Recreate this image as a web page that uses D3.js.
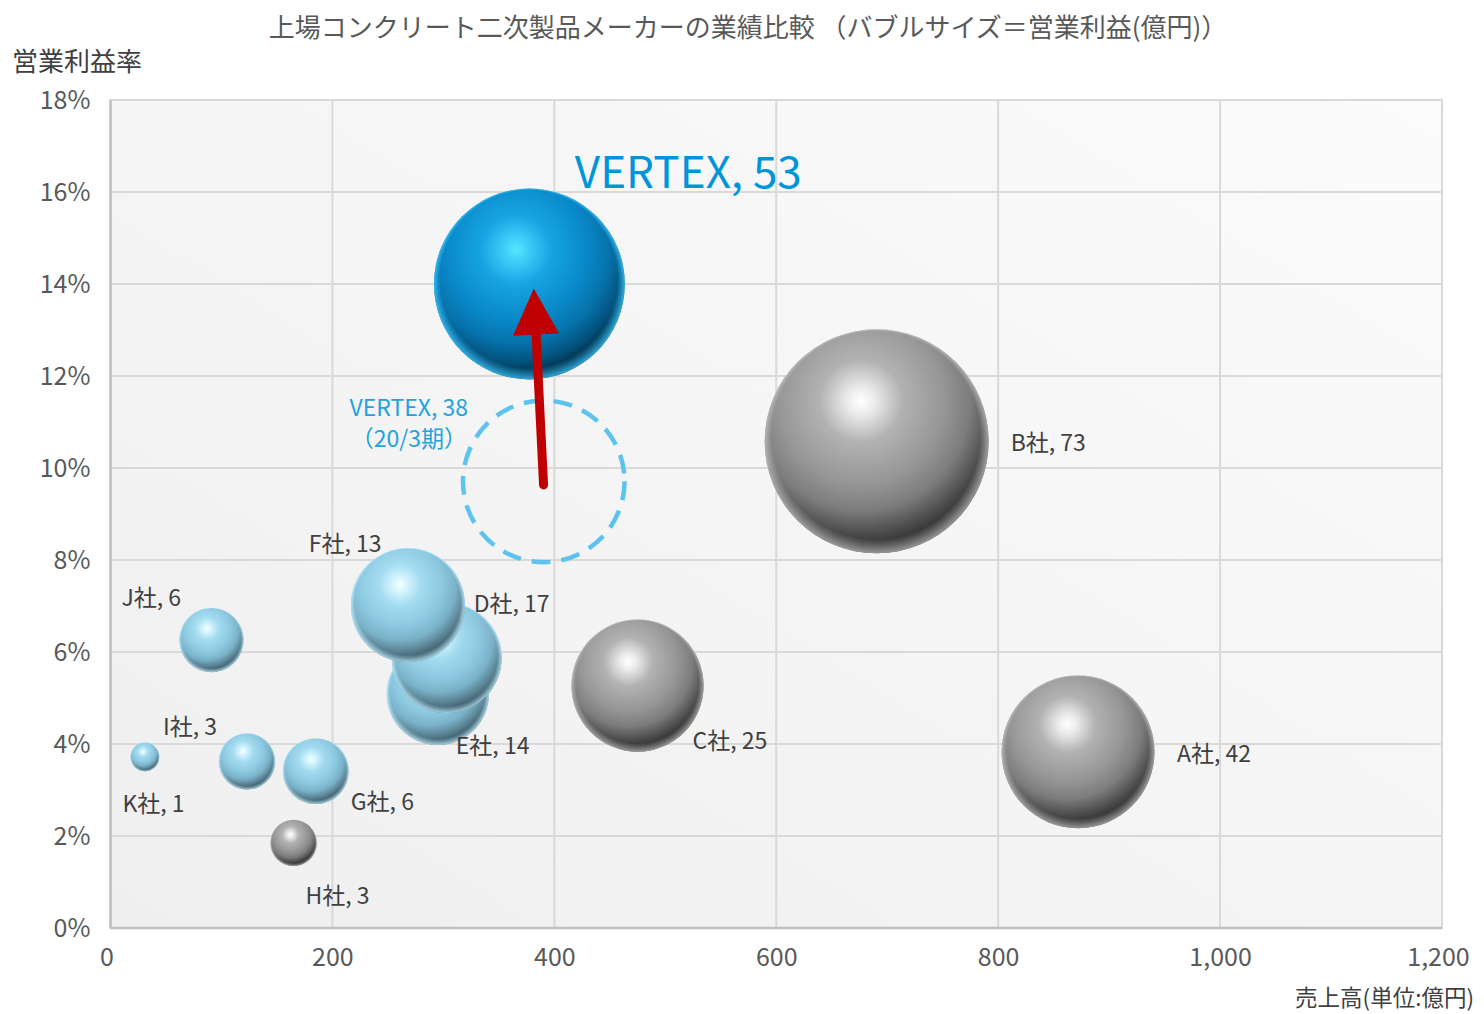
<!DOCTYPE html>
<html><head><meta charset="utf-8">
<script src="https://cdn.jsdelivr.net/npm/d3@7"></script>
<style>
html,body{margin:0;padding:0;background:#fff;}
text{font-family:"Noto Sans CJK JP","Noto Sans",sans-serif;}
</style></head>
<body><svg id="chart" width="1484" height="1014"></svg>
<script>
// ---------- data ----------
const companies   = ["VERTEX","B社","A社","C社","E社","D社","F社","J社","I社","K社","G社","H社"];
const sales       = [377.5, 690.5, 872, 475, 295, 303, 268, 91, 123, 31, 185, 165];      // 売上高(億円)
const margins     = [14.0, 10.58, 3.83, 5.27, 5.09, 5.87, 7.02, 6.26, 3.62, 3.72, 3.41, 1.85]; // 営業利益率(%)
const profits     = [53, 73, 42, 25, 14, 17, 13, 6, 3, 1, 6, 3];                           // 営業利益(億円) label
const bubbleSizes = [53, 73, 34, 25.4, 15.2, 17.6, 18.9, 6, 4.6, 1.2, 6.3, 3.1];          // bubble size as drawn
const groups      = ["vertex","gray","gray","gray","light","light","light","light","light","light","light","gray"];
const prevPoint   = {name:"VERTEX", sales:390.5, margin:9.71, profit:38, period:"（20/3期）"};
const arrowFrom   = [390.3, 9.63];
const arrowTo     = [381.5, 13.9];
const xTicks      = [0,200,400,600,800,1000,1200];
const yTicks      = [0,2,4,6,8,10,12,14,16,18];
const title       = "上場コンクリート二次製品メーカーの業績比較 （バブルサイズ＝営業利益(億円)）";
const yTitle      = "営業利益率";
const xTitle      = "売上高(単位:億円)";

// ---------- layout ----------
const plot = {l:110.5, r:1442, t:100, b:928};
const labelOffsets = [[45.5,-115.5],[134,0],[99,0],[55,53],[18,50],[27,-56],[-99,-63],[-90,-44],[-84,-36.5],[-22.5,45],[35,29],[12,51]];

const svg = d3.select("#chart");
const x = d3.scaleLinear().domain([0,1200]).range([plot.l, plot.r]);
const y = d3.scaleLinear().domain([0,18]).range([plot.b, plot.t]);
const rs = d3.scaleSqrt().domain([0,73]).range([0,112]);

const defs = svg.append("defs");
const bg = defs.append("linearGradient").attr("id","bg").attr("x1","0").attr("y1","1").attr("x2","1").attr("y2","0");
bg.append("stop").attr("offset","0").attr("stop-color","#efefef");
bg.append("stop").attr("offset","1").attr("stop-color","#fbfbfb");

function sphereGrad(id, stops){
  const g = defs.append("radialGradient").attr("id",id)
    .attr("cx","0.43").attr("cy","0.32").attr("r","0.74").attr("fx","0.43").attr("fy","0.32");
  stops.forEach(s=>g.append("stop").attr("offset",s[0]).attr("stop-color",s[1]));
}
sphereGrad("g-vertex",[[0,"#55e8ff"],[0.08,"#3fd0fa"],[0.25,"#16a4e2"],[0.5,"#0988c8"],[0.66,"#0672ab"],[0.8,"#03507a"],[0.9,"#012a40"],[1,"#00121c"]]);
sphereGrad("g-light",[[0,"#f4ffff"],[0.08,"#d8f6ff"],[0.25,"#a4dcf0"],[0.5,"#8bc8e0"],[0.66,"#7ab2c8"],[0.8,"#587f90"],[0.9,"#385664"],[1,"#263e48"]]);
sphereGrad("g-gray",[[0,"#ffffff"],[0.08,"#ececec"],[0.25,"#b2b2b2"],[0.5,"#969696"],[0.66,"#7c7c7c"],[0.8,"#4c4c4c"],[0.9,"#2c2c2c"],[1,"#1a1a1a"]]);
function rimGrad(id,color,op){
  const g = defs.append("radialGradient").attr("id",id)
    .attr("cx","0.5").attr("cy","0.5").attr("r","0.5").attr("fx","0.45").attr("fy","0.12");
  g.append("stop").attr("offset","0").attr("stop-color",color).attr("stop-opacity",0);
  g.append("stop").attr("offset","0.93").attr("stop-color",color).attr("stop-opacity",0);
  g.append("stop").attr("offset","1").attr("stop-color",color).attr("stop-opacity",op);
}
rimGrad("r-vertex","#3cc8ff",0.8);
rimGrad("r-light","#c4f0ff",0.8);
rimGrad("r-gray","#c8c8c8",0.7);

// plot area
svg.append("rect").attr("x",plot.l).attr("y",plot.t).attr("width",plot.r-plot.l).attr("height",plot.b-plot.t)
  .attr("fill","url(#bg)").attr("stroke","#d9d9d9").attr("stroke-width",2);
svg.append("g").selectAll("line").data(xTicks.slice(1)).join("line")
  .attr("x1",d=>x(d)).attr("x2",d=>x(d)).attr("y1",plot.t).attr("y2",plot.b)
  .attr("stroke","#d9d9d9").attr("stroke-width",2);
svg.append("g").selectAll("line").data(yTicks.slice(1)).join("line")
  .attr("x1",plot.l).attr("x2",plot.r).attr("y1",d=>y(d)).attr("y2",d=>y(d))
  .attr("stroke","#d9d9d9").attr("stroke-width",2);
svg.append("line").attr("x1",plot.l).attr("x2",plot.l).attr("y1",plot.t).attr("y2",plot.b).attr("stroke","#bfbfbf").attr("stroke-width",2.5);
svg.append("line").attr("x1",plot.l).attr("x2",plot.r).attr("y1",plot.b).attr("y2",plot.b).attr("stroke","#bfbfbf").attr("stroke-width",2.5);

// axes
const fmt = d3.format(",");
const xa = svg.append("g").attr("transform",`translate(0,${plot.b})`)
  .call(d3.axisBottom(x).tickValues(xTicks).tickFormat(fmt).tickSize(0).tickPadding(25));
const ya = svg.append("g").attr("transform",`translate(${plot.l},0)`)
  .call(d3.axisLeft(y).tickValues(yTicks).tickFormat(d=>d+"%").tickSize(0).tickPadding(20));
[xa,ya].forEach(a=>{ a.select(".domain").remove();
  a.selectAll("text").attr("fill","#595959").attr("font-size",25).style("font-family",'"Noto Sans CJK JP",sans-serif'); });
xa.selectAll("text").attr("dy","0.5em");
xa.selectAll("text").filter(d=>d===0).attr("dx",-4);
xa.selectAll("text").filter(d=>d===1200).attr("dx",-4);

// titles
svg.append("text").attr("x",748).attr("y",25).attr("text-anchor","middle").attr("dominant-baseline","central")
  .attr("font-size",26).attr("fill","#595959").text(title);
svg.append("text").attr("x",12).attr("y",59).attr("dominant-baseline","central")
  .attr("font-size",26).attr("fill","#404040").text(yTitle);
svg.append("text").attr("x",1474).attr("y",996).attr("text-anchor","end").attr("dominant-baseline","central")
  .attr("font-size",22.5).attr("fill","#404040").text(xTitle);

// previous-period dashed circle
svg.append("circle").attr("cx",x(prevPoint.sales)).attr("cy",y(prevPoint.margin)).attr("r",rs(prevPoint.profit))
  .attr("fill","none").attr("stroke","#5bc3ee").attr("stroke-width",4.5).attr("stroke-dasharray","19 11");
const plx = x(prevPoint.sales)-135, ply = y(prevPoint.margin)-75;
const pl = svg.append("g").attr("fill","#21a3de").attr("font-size",23).attr("text-anchor","middle");
pl.append("text").attr("x",plx).attr("y",ply).attr("dominant-baseline","central").text(`${prevPoint.name}, ${prevPoint.profit}`);
pl.append("text").attr("x",plx).attr("y",ply+31).attr("dominant-baseline","central").text(prevPoint.period);

// bubbles
const data = companies.map((c,i)=>({name:c, sales:sales[i], margin:margins[i], profit:profits[i], size:bubbleSizes[i], group:groups[i], off:labelOffsets[i]}));
const bub = svg.append("g").selectAll("g").data(data).join("g");
bub.append("circle").attr("cx",d=>x(d.sales)).attr("cy",d=>y(d.margin)).attr("r",d=>rs(d.size))
  .attr("fill",d=>`url(#g-${d.group})`);
bub.append("circle").attr("cx",d=>x(d.sales)).attr("cy",d=>y(d.margin)).attr("r",d=>rs(d.size))
  .attr("fill",d=>`url(#r-${d.group})`);

// labels
svg.append("g").selectAll("text").data(data).join("text")
  .attr("x",d=>x(d.sales)+d.off[0]).attr("y",d=>y(d.margin)+d.off[1])
  .attr("dominant-baseline","central")
  .attr("font-size",d=>d.group==="vertex"?44:23)
  .attr("fill",d=>d.group==="vertex"?"#0095d9":"#404040")
  .text(d=>`${d.name}, ${d.profit}`);

// arrow
const ax0=x(arrowFrom[0]), ay0=y(arrowFrom[1]), ax1=x(arrowTo[0]), ay1=y(arrowTo[1]);
const ang=Math.atan2(ay1-ay0, ax1-ax0), headL=46, headW=46;
const bx=ax1-headL*Math.cos(ang), by=ay1-headL*Math.sin(ang);
svg.append("line").attr("x1",ax0).attr("y1",ay0).attr("x2",bx).attr("y2",by)
  .attr("stroke","#c00000").attr("stroke-width",9).attr("stroke-linecap","round");
const px=-Math.sin(ang), py=Math.cos(ang);
svg.append("path").attr("d",`M${ax1},${ay1}L${bx+px*headW/2},${by+py*headW/2}L${bx-px*headW/2},${by-py*headW/2}Z`)
  .attr("fill","#c00000");
</script></body></html>
